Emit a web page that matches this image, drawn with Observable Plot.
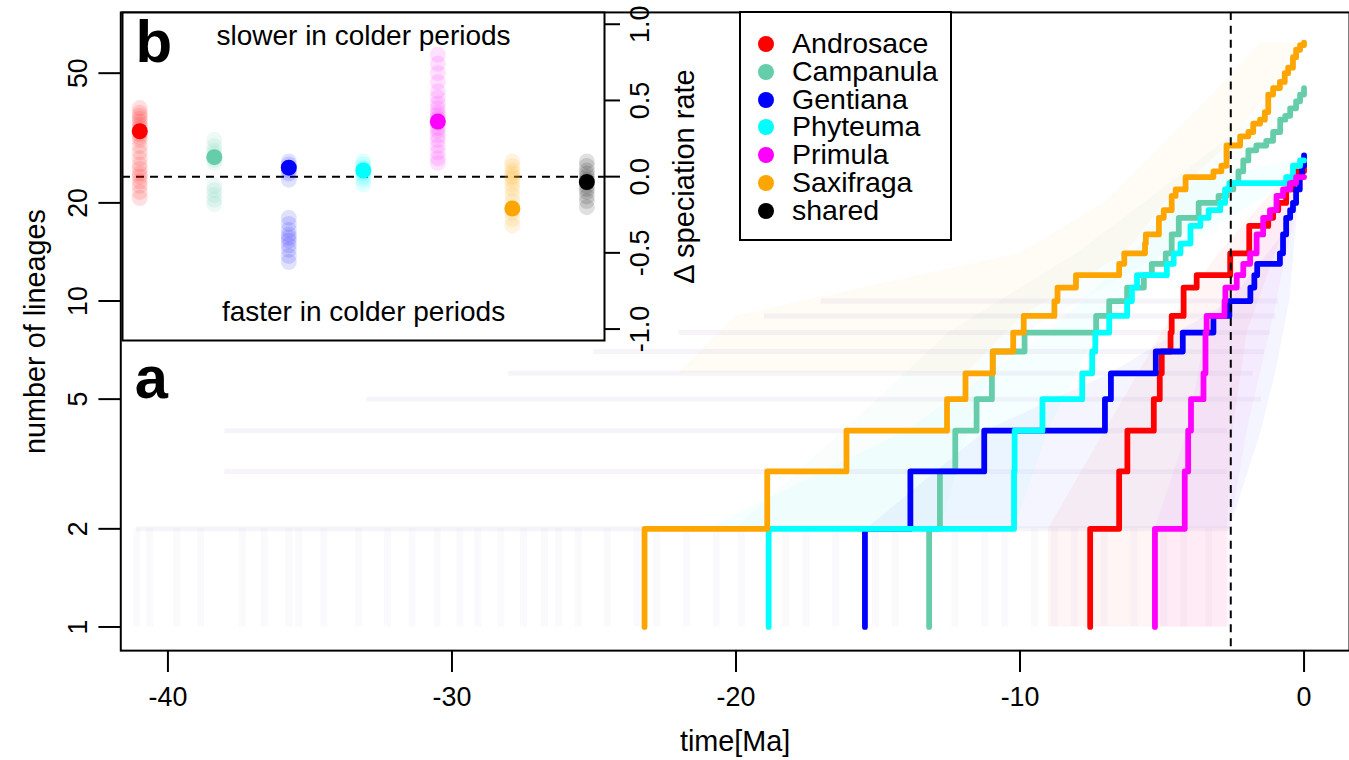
<!DOCTYPE html>
<html><head><meta charset="utf-8">
<script src="https://cdn.jsdelivr.net/npm/d3@7"></script>
<script src="https://cdn.jsdelivr.net/npm/@observablehq/plot@0.6"></script>
<style>
html,body{margin:0;padding:0;background:#fff;overflow:hidden;}
#wrap{position:relative;width:1349px;height:760px;overflow:hidden;font-family:"Liberation Sans",Arial,sans-serif;}
#main,#inset,#legend{position:absolute;left:0;top:0;}
#legend .box{position:absolute;left:739px;top:11px;width:213px;height:230px;box-sizing:border-box;border:2px solid #000;background:#fff;}
#legend .row{position:absolute;left:0;height:26px;}
#legend .dot{position:absolute;left:17px;width:16px;height:16px;border-radius:50%;top:5px;}
#legend .lab{position:absolute;left:51px;top:0;font-size:24.8px;line-height:26px;height:26px;white-space:nowrap;color:#000;transform:scale(1.15,1.1);transform-origin:0 50%;}
</style></head><body>
<div id="wrap"><div id="main"></div><div id="inset"></div><div id="legend"></div></div>
<script>
// ---------- categories / colours ----------
const genera = ["Androsace","Campanula","Gentiana","Phyteuma","Primula","Saxifraga","shared"];
const colors = ["#FF0000","#66CDAA","#0000FF","#00FFFF","#FF00FF","#FFA500","#000000"];

// ---------- panel a : lineages through time (time in Ma, number of lineages) ----------
const androsace_t = [-7.53,-7.53,-6.51,-6.22,-5.29,-5.08,-5.01,-4.70,-4.66,-4.24,-3.78,-2.60,-1.93,-1.26,-1.09,-0.91,-0.63,-0.39,-0.27,0];
const androsace_n = [1,2,3,4,5,6,7,8,9,11,12,14,17,18,19,20,22,24,25,26];
const campanula_t = [-13.20,-13.20,-12.82,-12.28,-11.53,-10.99,-10.96,-9.84,-7.32,-6.86,-6.23,-5.64,-5.36,-4.87,-4.66,-4.41,-3.71,-3.01,-2.73,-2.49,-2.31,-2.14,-1.96,-1.68,-1.33,-1.09,-0.84,-0.66,-0.49,-0.28,-0.14,0];
const campanula_n = [1,2,3,4,5,6,7,8,9,10,11,12,13,14,16,18,20,21,22,23,25,27,29,30,31,33,36,37,39,41,43,45];
const gentiana_t = [-15.46,-15.46,-13.86,-11.26,-7.01,-6.80,-5.22,-4.27,-3.19,-2.63,-1.89,-1.75,-1.65,-0.85,-0.74,-0.63,-0.49,-0.39,-0.28,-0.15,-0.07,0];
const gentiana_n = [1,2,3,4,5,6,7,8,9,10,11,12,13,14,16,18,19,20,22,24,26,28];
const phyteuma_t = [-18.85,-18.85,-10.21,-10.19,-9.21,-7.81,-7.46,-7.35,-6.86,-6.23,-6.06,-5.88,-4.83,-4.59,-4.35,-4.00,-3.65,-3.36,-2.95,-2.78,-2.63,-0.63,-0.39,-0.14,0];
const phyteuma_n = [1,2,3,4,5,6,7,8,9,10,11,12,13,14,15,17,18,19,20,22,23,24,26,27,27];
const primula_t = [-5.25,-5.25,-4.20,-4.08,-3.98,-3.54,-3.47,-3.43,-2.80,-2.77,-2.37,-2.14,-1.90,-1.67,-1.44,-1.20,-0.97,-0.74,-0.50,-0.28,0];
const primula_n = [1,2,3,4,5,6,8,9,10,11,12,13,14,16,18,19,21,22,23,24,24];
const saxifraga_t = [-23.22,-23.22,-18.90,-16.11,-12.57,-11.92,-10.96,-10.24,-9.87,-8.79,-8.68,-8.03,-6.51,-6.33,-5.60,-5.57,-5.11,-4.94,-4.66,-4.52,-4.17,-3.19,-2.91,-2.73,-2.25,-1.96,-1.79,-1.55,-1.38,-1.26,-1.09,-0.85,-0.68,-0.56,-0.39,-0.28,-0.14,0];
const saxifraga_n = [1,2,3,4,5,6,7,8,9,10,11,12,13,14,15,16,18,19,21,22,24,25,26,30,32,33,35,36,38,43,45,47,50,52,56,59,61,62];

// posterior trees (faint): root ages, lineage-level spans and per-genus spread
const rootAges = [-41.09,-40.64,-39.69,-38.85,-37.38,-36.61,-35.74,-35.39,-34.51,-33.29,-32.27,-31.40,-30.52,-29.72,-29.09,-28.28,-27.48,-26.74,-26.25,-25.55,-24.54,-23.49,-22.79,-21.74,-20.69,-19.81,-18.24,-17.54,-16.49,-15.09,-14.39,-12.29,-11.24,-10.54,-9.49,-8.79,-8.09,-7.04,-5.99,-4.94,-4.24,-3.36];
const levelN = [2,3,4,5,6,7,8,9,10];
const levelStart = [-41.1,-38.0,-38.0,-33.0,-28.0,-25.0,-22.0,-19.0,-17.0];
const levelEnd = [-2.6,-2.7,-2.7,-1.5,-1.8,-1.4,-1.2,-1.0,-0.9];
const spreadN = {
  Androsace:[1,2,4,8,14,26], Campanula:[2,5,8,14,22,30,45], Gentiana:[2,4,6,10,16,24,28],
  Phyteuma:[2,4,8,14,23,27], Primula:[1,2,4,8,14,24], Saxifraga:[6,9,14,20,30,45,62]};
const spreadEarly = {
  Androsace:[-9,-9,-7,-5,-3,-0.3], Campanula:[-20,-15,-12.5,-8,-5,-3,-0.5], Gentiana:[-15.4,-11.2,-6.8,-2.6,-0.74,-0.15,0],
  Phyteuma:[-21,-14,-9,-6,-4,-0.5], Primula:[-5.25,-5.25,-4.1,-3.45,-1.9,-0.3], Saxifraga:[-22,-20,-10,-7,-5,-3,-1.5]};
const spreadLate = {
  Androsace:[-2.7,-2.7,-2.5,-2,-1,0], Campanula:[-12.8,-11.5,-9.8,-4.9,-2.7,-1.7,0], Gentiana:[-2.6,-1.5,-1.0,-0.5,-0.3,-0.1,0],
  Phyteuma:[-10.2,-9,-7.3,-4.6,-0.6,0], Primula:[-2.6,-2.6,-2.0,-1.2,-0.6,0], Saxifraga:[-11.9,-9.9,-6.3,-4.9,-2.7,-1.1,0]};

const pliocene = -2.58; // dashed line
const xTicks = [-40,-30,-20,-10,0];
const yTicks = [1,2,5,10,20,50];

// ---------- panel b : change in speciation rate ----------
const mainDelta = [0.298,0.128,0.059,0.041,0.362,-0.209,-0.035];
const postDelta = [
  [0.45,0.42,0.40,0.38,0.36,0.34,0.32,0.30,0.28,0.26,0.24,0.20,0.16,0.12,0.08,0.05,0.02,0.0,-0.03,-0.06,-0.10,-0.14],
  [0.24,0.20,0.17,0.15,0.13,0.11,0.09,-0.06,-0.09,-0.12,-0.15,-0.18],
  [0.10,0.08,0.06,0.04,0.02,-0.02,-0.27,-0.31,-0.35,-0.38,-0.40,-0.42,-0.45,-0.48,-0.52,-0.56],
  [0.10,0.08,0.06,0.05,0.03,0.02,0.0,-0.02,-0.05],
  [0.80,0.74,0.68,0.62,0.56,0.52,0.48,0.45,0.42,0.40,0.38,0.35,0.32,0.30,0.27,0.24,0.20,0.16,0.12,0.09],
  [0.10,0.07,0.04,0.02,0.0,-0.02,-0.05,-0.08,-0.12,-0.16,-0.24,-0.28,-0.32],
  [0.10,0.07,0.04,0.02,0.0,-0.02,-0.04,-0.06,-0.08,-0.10,-0.13,-0.16,-0.20]
];
const deltaTicks = [-1,-0.5,0,0.5,1];

// ---------- build tables ----------
const series = [
  ["Androsace",androsace_t,androsace_n],["Campanula",campanula_t,campanula_n],
  ["Gentiana",gentiana_t,gentiana_n],["Phyteuma",phyteuma_t,phyteuma_n],
  ["Primula",primula_t,primula_n],["Saxifraga",saxifraga_t,saxifraga_n]];
const ltt = series.flatMap(([g,ts,ns]) => ts.map((t,i)=>({genus:g,t,n:ns[i]})));
const levels = levelN.map((n,i)=>({n,t1:levelStart[i],t2:levelEnd[i]}));
const spread = Object.keys(spreadN).flatMap(g=>spreadN[g].map((n,i)=>({genus:g,n,lo:spreadEarly[g][i],hi:spreadLate[g][i]})));
const mainPts = genera.map((g,i)=>({genus:g,i:i+1,d:mainDelta[i]}));
const postPts = genera.flatMap((g,i)=>postDelta[i].map(d=>({genus:g,i:i+1,d})));
const color = {domain:genera, range:colors};
const FONT = "Liberation Sans, Arial, sans-serif";
const FS = 29, TS = 27;

const main = Plot.plot({
  width:1357, height:760, marginLeft:121, marginRight:0, marginTop:12, marginBottom:106,
  style:{fontFamily:FONT, background:"transparent", overflow:"visible"},
  x:{domain:[-41.66,1.6], axis:null},
  y:{type:"log", domain:[0.846,76.8], axis:null},
  color,
  marks:[
    Plot.areaX(spread,{y:"n", x1:"lo", x2:"hi", z:"genus", fill:"genus", fillOpacity:0.04}),
    Plot.ruleX(rootAges,{x:d=>d, y1:1, y2:2, stroke:"#8c8cd8", strokeOpacity:0.04, strokeWidth:7}),
    Plot.ruleY(levels,{y:"n", x1:"t1", x2:"t2", stroke:"#a898c0", strokeOpacity:0.1, strokeWidth:5}),
    Plot.line(ltt,{x:"t", y:"n", z:"genus", stroke:"genus", curve:"step-after", strokeWidth:5.8, strokeLinecap:"round", strokeLinejoin:"round"}),
    Plot.ruleX([pliocene],{stroke:"black", strokeWidth:2, strokeDasharray:"8,6"}),
    Plot.frame({stroke:"black", strokeWidth:2}),
    Plot.axisX({ticks:xTicks, tickSize:22, tickFormat:()=>"", label:null, strokeWidth:2}),
    Plot.text(xTicks,{x:d=>d, text:d=>String(d), frameAnchor:"bottom", dy:47, fontSize:TS, textAnchor:"middle", lineAnchor:"middle"}),
    Plot.axisY({ticks:yTicks, tickSize:22, tickFormat:()=>"", label:null, strokeWidth:2}),
    Plot.text(yTicks,{y:d=>d, text:d=>String(d), frameAnchor:"left", dx:-43, rotate:-90, fontSize:TS, textAnchor:"middle", lineAnchor:"middle"}),
    Plot.text(["time[Ma]"],{frameAnchor:"bottom", dy:92, fontSize:FS, textAnchor:"middle", lineAnchor:"middle"}),
    Plot.text(["number of lineages"],{frameAnchor:"left", dx:-86, rotate:-90, fontSize:FS, textAnchor:"middle", lineAnchor:"middle"}),
    Plot.text(["a"],{frameAnchor:"left", dx:14, dy:48, textAnchor:"start", lineAnchor:"middle", fontSize:60, fontWeight:"bold"})
  ]
});
document.getElementById("main").appendChild(main);

const inset = Plot.plot({
  width:720, height:350, marginLeft:122, marginRight:116, marginTop:12, marginBottom:10,
  style:{fontFamily:FONT, background:"transparent", overflow:"visible"},
  x:{domain:[0.768,7.237], axis:null},
  y:{domain:[-1.075,1.077], axis:null},
  color,
  marks:[
    Plot.frame({fill:"white", stroke:"black", strokeWidth:2}),
    Plot.ruleY([0],{stroke:"black", strokeWidth:2, strokeDasharray:"8,6"}),
    Plot.dot(postPts,{x:"i", y:"d", fill:"genus", r:8, fillOpacity:0.12, stroke:null}),
    Plot.dot(mainPts,{x:"i", y:"d", fill:"genus", r:8, stroke:null}),
    Plot.axisY({anchor:"right", ticks:deltaTicks, tickSize:15, tickFormat:()=>"", label:null, strokeWidth:2}),
    Plot.text(deltaTicks,{y:d=>d, text:d=>d3.format(".1f")(d).replace("\u2212","-"), frameAnchor:"right", dx:36, rotate:-90, fontSize:TS, textAnchor:"middle", lineAnchor:"middle"}),
    Plot.text(["\u0394 speciation rate"],{frameAnchor:"right", dx:80, rotate:-90, fontSize:FS, textAnchor:"middle", lineAnchor:"middle"}),
    Plot.text(["slower in colder periods"],{frameAnchor:"top", dy:24, fontSize:28, textAnchor:"middle", lineAnchor:"middle"}),
    Plot.text(["faster in colder periods"],{frameAnchor:"bottom", dy:-28, fontSize:28, textAnchor:"middle", lineAnchor:"middle"}),
    Plot.text(["b"],{frameAnchor:"top-left", dx:13, dy:30, textAnchor:"start", lineAnchor:"middle", fontSize:60, fontWeight:"bold"})
  ]
});
document.getElementById("inset").appendChild(inset);

// legend
const leg = d3.select("#legend").append("div").attr("class","box");
genera.forEach((g,i)=>{
  const row = leg.append("div").attr("class","row").style("top",(18+i*27.8)+"px");
  row.append("div").attr("class","dot").style("background",colors[i]);
  row.append("div").attr("class","lab").text(g);
});
</script></body></html>
